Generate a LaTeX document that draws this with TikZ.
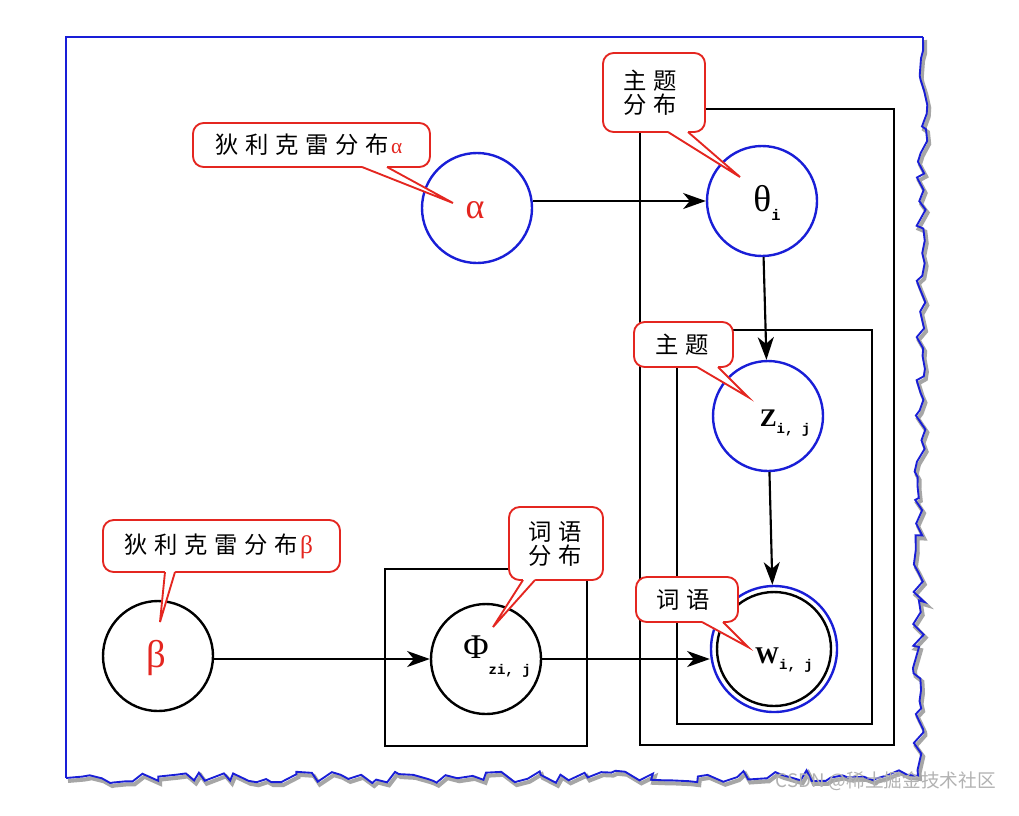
\documentclass[tikz,border=0pt]{standalone}
\usepackage{fontspec}
\setmainfont{Liberation Serif}
\newfontfamily\cjk[LetterSpace=28]{Noto Sans CJK SC}
\newfontfamily\cjkplain{Noto Sans CJK SC}
\newfontfamily\subfont{Liberation Mono}
\usetikzlibrary{arrows.meta,decorations.pathmorphing}
\definecolor{cblue}{RGB}{25,30,215}
\definecolor{cred}{RGB}{228,38,32}
\newcommand\subtxt[2][10.5]{\raisebox{-0.55ex}{\fontsize{#1}{#1}\subfont\bfseries #2}}
% callout outline: left top right bottom x1 x2 tip
\newcommand\calloutbox[7]{%
  \filldraw[cout, rounded corners=8pt] (#1,#2) rectangle (#3,#4);
  \fill[white] (#5,{#4-3}) -- (#5,{#4+1.2}) -- #7 -- (#6,{#4+1.2}) -- (#6,{#4-3}) -- cycle;
  \draw[cout, fill=none] (#5,#4) -- #7 -- (#6,#4);}
\begin{document}
\begin{tikzpicture}[x=0.75pt,y=-0.75pt,
  var/.style={circle, draw=cblue, line width=1.8pt, fill=white, minimum size=82.5pt, inner sep=0pt},
  bvar/.style={var, draw=black},
  plate/.style={draw=black, line width=1.8pt},
  arr/.style={line width=1.6pt, -{Stealth[length=17pt,width=12pt,inset=5pt]}},
  cout/.style={draw=cred, fill=white, line width=1.4pt},
  ctext/.style={font=\fontsize{17.5pt}{18pt}\cjk, align=center, inner sep=0pt},
  lbl/.style={inner sep=0pt, font=\fontsize{24pt}{24pt}\selectfont},
  frame/.style={cblue, line width=1.4pt},
  torn/.style={decorate, decoration={random steps, segment length=7pt, amplitude=4.5pt}},
  wm/.style={font=\fontsize{14pt}{14pt}\cjkplain, text=gray!60, inner sep=0pt}
]
\useasboundingbox (0,0) rectangle (1019,815);
\fill[white] (0,0) rectangle (1019,815);

% frame
\draw[frame] (923,37) -- (66,37) -- (66,778);
\pgfmathsetseed{11}
\draw[gray!70, line width=3pt, torn, shift={(2,3)}] (923,37) -- (918,776) -- (66,778);
\pgfmathsetseed{11}
\draw[frame, torn] (923,37) -- (918,776) -- (66,778);

% plates
\draw[plate] (640,109) rectangle (894,745);
\draw[plate] (677,330) rectangle (872,724);
\draw[plate] (385,569) rectangle (587,746);

% variables
\node[var] (alpha) at (477,208) {};
\node[var] (theta) at (762,201) {};
\node[var] (z) at (768,416) {};
\node[var, minimum size=94.5pt] (w) at (774,649) {};
\node[bvar, minimum size=85.5pt] (win) at (774,649) {};
\node[bvar] (beta) at (158,656) {};
\node[bvar] (phi) at (486,659) {};

% arrows
\draw[arr] (alpha.east |- theta) -- (theta.west);
\draw[arr] (theta) -- (z);
\draw[arr] (z) -- (w);
\draw[arr] (beta.east |- phi) -- (phi.west);
\draw[arr] (phi.east) -- (phi.east -| w.west);

% labels
\node[lbl, text=cred, font=\fontsize{27pt}{27pt}\selectfont] (lalpha) at (475,210) {α};
\node[lbl, font=\fontsize{28pt}{28pt}\selectfont] (ltheta) at (767,203) {θ\subtxt[11.5]{i}};
\node[lbl, font=\fontsize{19pt}{19pt}\selectfont\bfseries] (lz) at (785,423) {Z\subtxt{i, j}};
\node[lbl, font=\fontsize{18pt}{18pt}\selectfont\bfseries] (lw) at (784,660) {W\subtxt{i, j}};
\node[lbl, font=\fontsize{26pt}{26pt}\selectfont] (lphi) at (497,657) {Φ\raisebox{-1.0ex}{\fontsize{10.5}{10.5}\subfont\bfseries zi, j}};
\node[lbl, text=cred, font=\fontsize{29pt}{29pt}\selectfont] (lbeta) at (156,658) {β};

% callouts
\calloutbox{193}{123}{430}{167}{362}{387}{(453,203)}
\node[ctext] (c1) at (309,145) {狄利克雷分布\hspace{2pt}{\rmfamily\fontsize{16pt}{16pt}\selectfont\color{cred}α}};
\calloutbox{603}{53}{705}{132}{668}{688}{(740,177)}
\node[ctext] (c2) at (650,92.5) {主题\\分布};
\calloutbox{634}{322}{733}{367}{697}{718}{(748,397)}
\node[ctext] (c3) at (682,344.5) {主题};
\calloutbox{636}{577}{738}{622}{702}{723}{(748,647)}
\node[ctext] (c4) at (683,599.5) {词语};
\calloutbox{103}{520}{340}{572}{165}{175}{(160,622)}
\node[ctext] (c5) at (219,546) {狄利克雷分布\hspace{2pt}{\rmfamily\fontsize{19pt}{19pt}\selectfont\color{cred}β}};
\calloutbox{509}{507}{603}{580}{523}{535}{(493,627)}
\node[ctext] (c6) at (555,543.5) {词语\\分布};

% watermark
\node[wm, anchor=east] (wmark) at (996,781) {CSDN @稀土掘金技术社区};
\end{tikzpicture}
\end{document}
